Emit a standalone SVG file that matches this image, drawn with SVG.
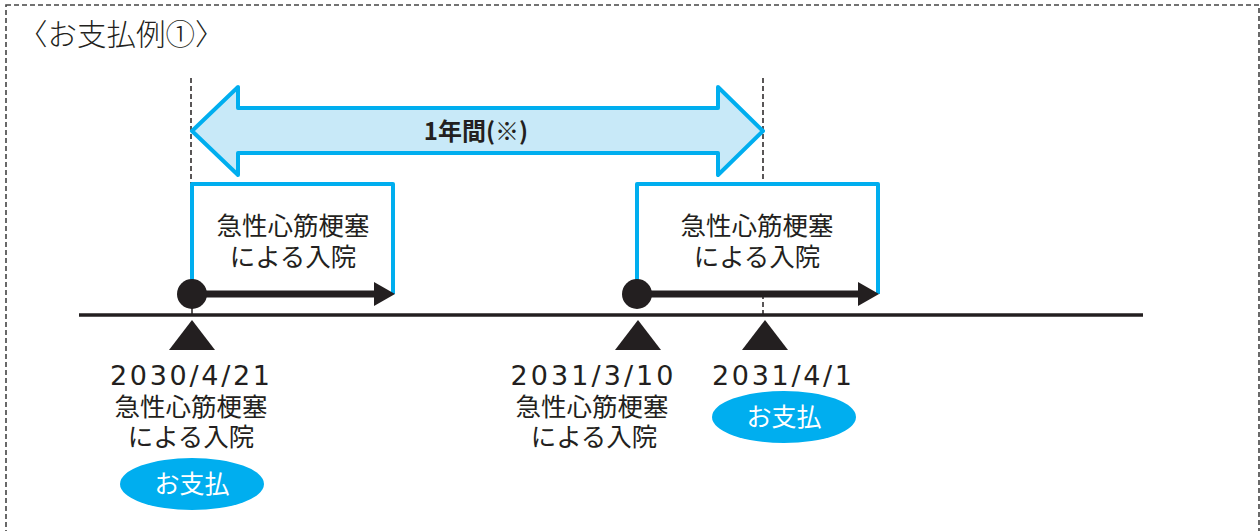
<svg xmlns="http://www.w3.org/2000/svg" width="1260" height="531" viewBox="0 0 1260 531">
<style>
text{font-family:"Noto Sans CJK JP","Liberation Sans",sans-serif;fill:#231f20}
.t{font-size:25.5px;text-anchor:middle}
.d{font-family:"DejaVu Sans","Liberation Sans",sans-serif;font-size:27px;text-anchor:middle}
.pay{font-size:25px;text-anchor:middle;fill:#fff}
.blue{fill:#fff;stroke:#00aeef;stroke-width:4;stroke-linejoin:round}
.vdash{stroke:#231f20;stroke-width:1.5;stroke-dasharray:5 3;fill:none}
</style>
<defs>
<path id="tri" d="M0,0 L23,30 L-23,30 Z" fill="#231f20"/>
</defs>
<rect x="6" y="5" width="1253" height="560" fill="none" stroke="#444" stroke-width="1.6" stroke-dasharray="5 3"/>
<text x="18" y="45" style="font-size:29.5px;font-weight:300">〈お支払例①〉</text>
<g id="connectors">
<line class="vdash" x1="191" y1="78" x2="191" y2="184"/>
<line class="vdash" x1="763" y1="78" x2="763" y2="316"/>
<line x1="79" y1="315" x2="1143" y2="315" stroke="#231f20" stroke-width="3.5"/>
<line x1="192" y1="300" x2="192" y2="315" stroke="#231f20" stroke-width="1.5"/>
</g>
<g id="period">
<path d="M192,131 L238,87 L238,108 L718,108 L718,87 L763,131 L718,175 L718,153 L238,153 L238,175 Z" fill="#c8e9f8" stroke="#00aeef" stroke-width="4" stroke-linejoin="round"/>
<text x="476" y="140" style="font-size:24px;font-weight:bold;text-anchor:middle">1年間(※)</text>
</g>
<g id="stay1">
<polyline class="blue" points="192,294 192,184 393,184 393,294"/>
<line x1="192" y1="294" x2="374" y2="294" stroke="#231f20" stroke-width="7"/>
<path d="M374,282 L395,294 L374,306 Z" fill="#231f20"/>
<circle cx="192" cy="294" r="15" fill="#231f20"/>
<text class="t" x="293" y="235">急性心筋梗塞</text>
<text class="t" x="293" y="266">による入院</text>
</g>
<g id="stay2">
<polyline class="blue" points="637,294 637,184 878,184 878,294"/>
<line x1="637" y1="294" x2="858" y2="294" stroke="#231f20" stroke-width="7"/>
<path d="M858,282 L879,294 L858,306 Z" fill="#231f20"/>
<circle cx="637" cy="294" r="15" fill="#231f20"/>
<text class="t" x="757" y="235">急性心筋梗塞</text>
<text class="t" x="757" y="266">による入院</text>
</g>
<g id="event1">
<use href="#tri" x="192" y="320"/>
<text class="d" x="190" y="385" textLength="160" lengthAdjust="spacing">2030/4/21</text>
<text class="t" x="191" y="416">急性心筋梗塞</text>
<text class="t" x="191" y="446">による入院</text>
<ellipse cx="192" cy="484" rx="72" ry="26" fill="#00aeef"/>
<text class="pay" x="192" y="493">お支払</text>
</g>
<g id="event2">
<use href="#tri" x="638" y="320"/>
<text class="d" x="592" y="385" textLength="163" lengthAdjust="spacing">2031/3/10</text>
<text class="t" x="592" y="416">急性心筋梗塞</text>
<text class="t" x="594" y="446">による入院</text>
</g>
<g id="event3">
<use href="#tri" x="765" y="320"/>
<text class="d" x="782" y="385" textLength="140" lengthAdjust="spacing">2031/4/1</text>
<ellipse cx="784" cy="417" rx="72" ry="26" fill="#00aeef"/>
<text class="pay" x="784" y="426">お支払</text>
</g>
</svg>
